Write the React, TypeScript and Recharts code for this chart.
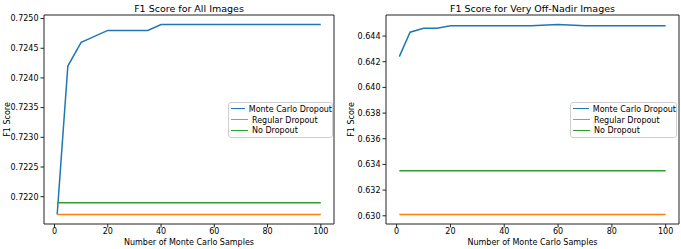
import React from 'react';
import { LineChart, Line, XAxis, YAxis, Legend } from 'recharts';

const samples = [1, 5, 10, 15, 20, 25, 30, 35, 40, 50, 60, 70, 80, 90, 100];
const seriesNames = ['Monte Carlo Dropout', 'Regular Dropout', 'No Dropout'];

const mcAll = [0.7217, 0.7242, 0.7246, 0.7247, 0.7248, 0.7248, 0.7248, 0.7248, 0.7249, 0.7249, 0.7249, 0.7249, 0.7249, 0.7249, 0.7249];
const regularAll = [0.7217, 0.7217, 0.7217, 0.7217, 0.7217, 0.7217, 0.7217, 0.7217, 0.7217, 0.7217, 0.7217, 0.7217, 0.7217, 0.7217, 0.7217];
const noDropAll = [0.7219, 0.7219, 0.7219, 0.7219, 0.7219, 0.7219, 0.7219, 0.7219, 0.7219, 0.7219, 0.7219, 0.7219, 0.7219, 0.7219, 0.7219];

const mcOff = [0.6424, 0.6443, 0.6446, 0.6446, 0.6448, 0.6448, 0.6448, 0.6448, 0.6448, 0.6448, 0.6449, 0.6448, 0.6448, 0.6448, 0.6448];
const regularOff = [0.6301, 0.6301, 0.6301, 0.6301, 0.6301, 0.6301, 0.6301, 0.6301, 0.6301, 0.6301, 0.6301, 0.6301, 0.6301, 0.6301, 0.6301];
const noDropOff = [0.6335, 0.6335, 0.6335, 0.6335, 0.6335, 0.6335, 0.6335, 0.6335, 0.6335, 0.6335, 0.6335, 0.6335, 0.6335, 0.6335, 0.6335];

const xTicks = [0, 20, 40, 60, 80, 100];
const yTicksAll = [0.722, 0.7225, 0.723, 0.7235, 0.724, 0.7245, 0.725];
const yTicksOff = [0.63, 0.632, 0.634, 0.636, 0.638, 0.64, 0.642, 0.644];

const xDomain = [-3.95, 104.95];
const yDomainAll = [0.72154, 0.72506];
const yDomainOff = [0.62936, 0.64564];

const AXIS = '#222';
const FONT = 'DejaVu Sans, sans-serif';

function buildRows(mc: number[], reg: number[], no: number[]) {
  return samples.map((s, i) => ({ samples: s, mc: mc[i], regular: reg[i], none: no[i] }));
}

const titleLabel = (text: string) => (props: any) => {
  const { x, y, width } = props.viewBox;
  return (
    <text x={x + width / 2} y={y + 8} textAnchor="middle" dominantBaseline="central" fontSize={9.5} fill="#000">
      {text}
    </text>
  );
};

const xLabel = (props: any) => {
  const { x, y, width } = props.viewBox;
  return (
    <text x={x + width / 2} y={y + 18.5} textAnchor="middle" dominantBaseline="central" fontSize={8} fill="#000">
      Number of Monte Carlo Samples
    </text>
  );
};

const yLabel = (cx: number) => (props: any) => {
  const { y, height } = props.viewBox;
  const cy = y + height / 2;
  return (
    <text x={cx} y={cy} textAnchor="middle" dominantBaseline="central" fontSize={8} fill="#000" transform={`rotate(-90 ${cx} ${cy})`}>
      F1 Score
    </text>
  );
};

const renderLegend = (props: any) => {
  const items = [...(props.payload || [])].sort(
    (a: any, b: any) => seriesNames.indexOf(a.value) - seriesNames.indexOf(b.value)
  );
  return (
    <div
      style={{
        border: '1px solid #d0d0d0',
        borderRadius: 3,
        background: 'rgba(255,255,255,0.8)',
        padding: '1px 0',
        fontSize: 8,
        fontFamily: FONT,
        color: '#000',
      }}
    >
      {items.map((e: any) => (
        <div key={e.value} style={{ display: 'flex', alignItems: 'center', height: 10.7, paddingLeft: 2 }}>
          <span style={{ display: 'inline-block', width: 17, height: 1, borderTop: `1.5px solid ${e.color}`, marginRight: 4 }} />
          <span style={{ whiteSpace: 'nowrap' }}>{e.value}</span>
        </div>
      ))}
    </div>
  );
};

interface PanelProps {
  title: string;
  data: any[];
  yDomain: number[];
  yTicks: number[];
  digits: number;
  width: number;
  leftAxis: number;
  rightAxis: number;
  yLabelX: number;
  legendLeft: number;
  legendWidth: number;
}

function Panel(p: PanelProps) {
  return (
    <LineChart width={p.width} height={249} data={p.data} margin={{ top: 0, right: 0, bottom: 0, left: 0 }}>
      <XAxis
        xAxisId="top"
        orientation="top"
        dataKey="samples"
        type="number"
        domain={xDomain}
        height={15}
        tick={false}
        tickLine={false}
        axisLine={{ stroke: AXIS }}
        label={{ content: titleLabel(p.title) }}
      />
      <XAxis
        dataKey="samples"
        type="number"
        domain={xDomain}
        ticks={xTicks}
        height={25}
        tickSize={3.5}
        tickMargin={1}
        tick={{ fill: '#000', fontSize: 8 }}
        tickLine={{ stroke: AXIS }}
        axisLine={{ stroke: AXIS }}
        label={{ content: xLabel }}
      />
      <YAxis
        type="number"
        domain={p.yDomain}
        ticks={p.yTicks}
        width={p.leftAxis}
        tickSize={3.5}
        tickMargin={2}
        tick={{ fill: '#000', fontSize: 8 }}
        tickLine={{ stroke: AXIS }}
        axisLine={{ stroke: AXIS }}
        tickFormatter={(v: number) => v.toFixed(p.digits)}
        label={{ content: yLabel(p.yLabelX) }}
      />
      <YAxis
        yAxisId="right"
        orientation="right"
        type="number"
        domain={p.yDomain}
        width={p.rightAxis}
        tick={false}
        tickLine={false}
        axisLine={{ stroke: AXIS }}
      />
      <Legend
        layout="vertical"
        align="center"
        verticalAlign="middle"
        content={renderLegend}
        wrapperStyle={{ left: p.legendLeft, top: 102, width: p.legendWidth }}
      />
      <Line dataKey="mc" name={seriesNames[0]} stroke="#1f77b4" strokeWidth={1.5} dot={false} isAnimationActive={false} />
      <Line dataKey="regular" name={seriesNames[1]} stroke="#ff7f0e" strokeWidth={1.5} dot={false} isAnimationActive={false} />
      <Line dataKey="none" name={seriesNames[2]} stroke="#2ca02c" strokeWidth={1.5} dot={false} isAnimationActive={false} />
    </LineChart>
  );
}

export default function App() {
  const allRows = buildRows(mcAll, regularAll, noDropAll);
  const offRows = buildRows(mcOff, regularOff, noDropOff);

  return (
    <div style={{ position: 'absolute', left: 0, top: 0, width: 681, height: 249, background: '#fff', fontFamily: FONT }}>
      <div style={{ position: 'absolute', left: 0, top: 0 }}>
        <Panel
          title="F1 Score for All Images"
          data={allRows}
          yDomain={yDomainAll}
          yTicks={yTicksAll}
          digits={4}
          width={340}
          leftAxis={44}
          rightAxis={6}
          yLabelX={7}
          legendLeft={228}
          legendWidth={105}
        />
      </div>
      <div style={{ position: 'absolute', left: 340, top: 0 }}>
        <Panel
          title="F1 Score for Very Off-Nadir Images"
          data={offRows}
          yDomain={yDomainOff}
          yTicks={yTicksOff}
          digits={3}
          width={341}
          leftAxis={46}
          rightAxis={2}
          yLabelX={11}
          legendLeft={230}
          legendWidth={107}
        />
      </div>
    </div>
  );
}
